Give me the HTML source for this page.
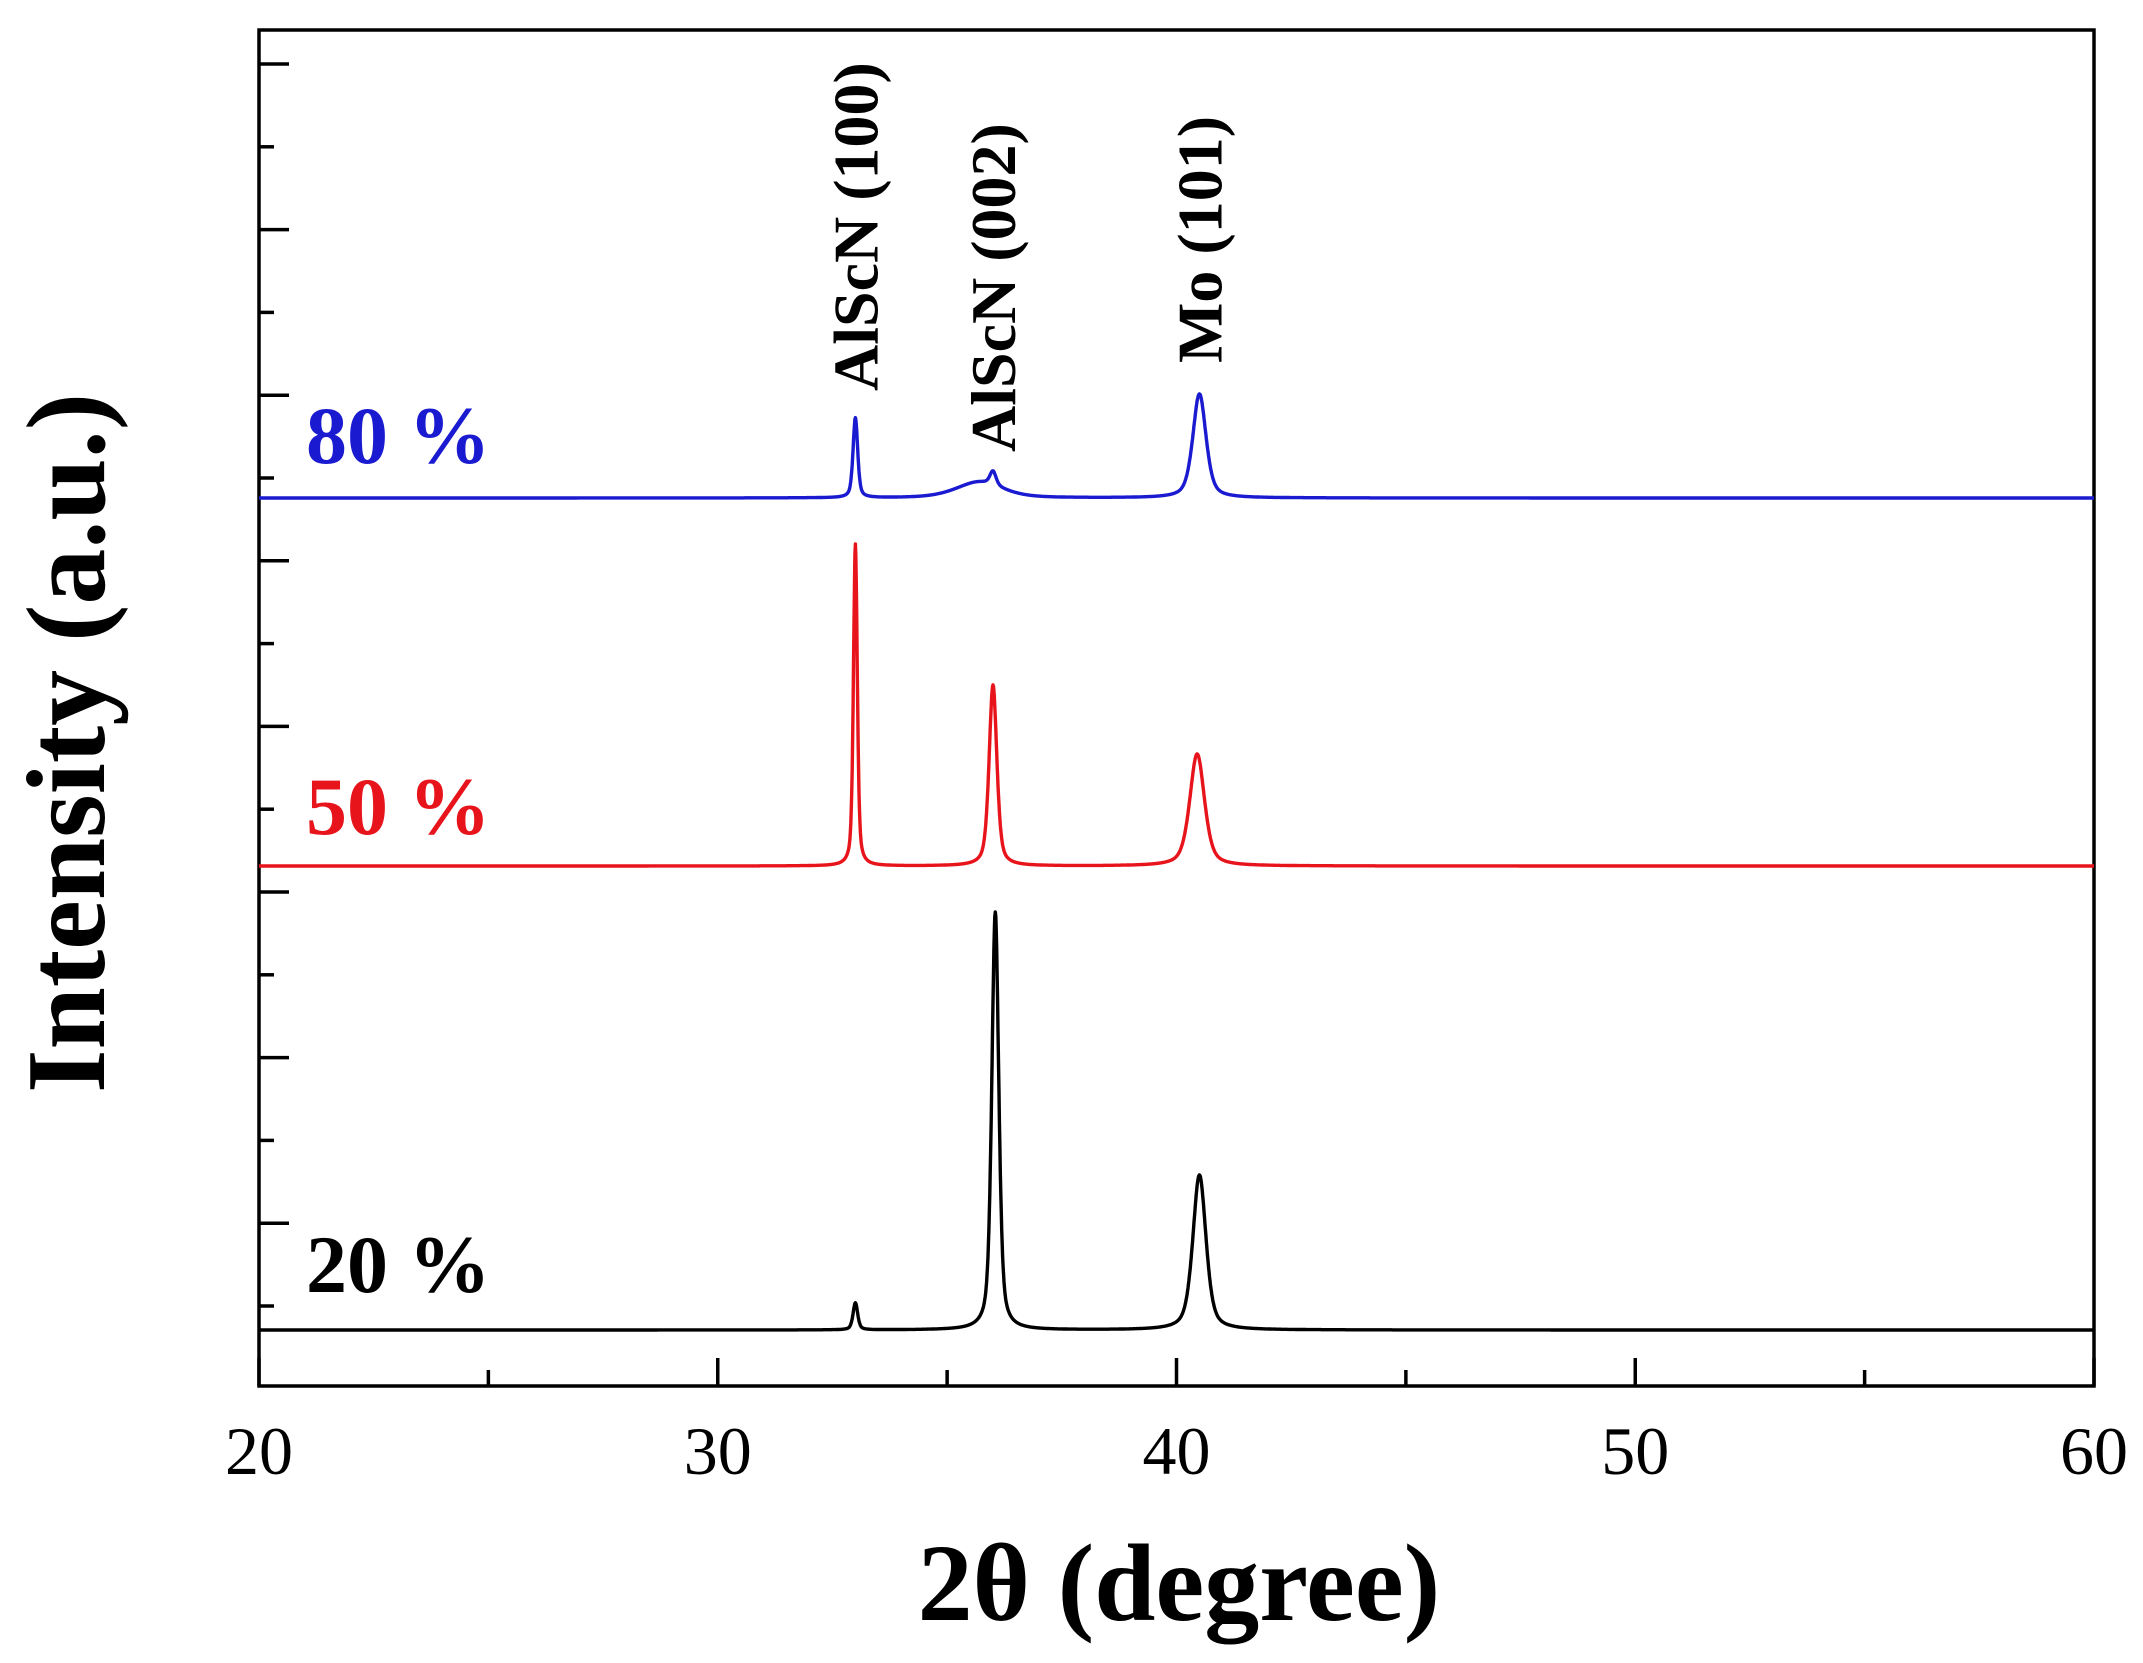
<!DOCTYPE html>
<html><head><meta charset="utf-8"><style>
html,body{margin:0;padding:0;background:#fff;}
svg{display:block;}
text{font-family:"Liberation Serif",serif;}
</style></head><body>
<svg id="chart" width="2143" height="1663" viewBox="0 0 2143 1663">
<g id="axes"></g>
<g id="series"></g>
<g id="labels"></g>
</svg>
<script>
// ---- data ----
const xTicks = [20, 30, 40, 50, 60];
const xMinorTicks = [25, 35, 45, 55];
const seriesNames = ["20 %", "50 %", "80 %"];
const seriesColors = ["#000000", "#e8141c", "#1a1ad0"];
const seriesOffsets = [0, 464, 832];
const peaks20Pos = [33.0, 36.05, 40.5];
const peaks20Height = [27, 418, 155];
const peaks20Width = [0.06, 0.09, 0.17];
const peaks50Pos = [33.0, 36.0, 40.45];
const peaks50Height = [322, 181, 112];
const peaks50Width = [0.05, 0.1, 0.19];
const peaks80Pos = [33.0, 35.7, 36.0, 40.5];
const peaks80Height = [80, 16, 14, 104];
const peaks80Width = [0.06, 0.6, 0.08, 0.17];
const peakLabels = ["AlScN (100)", "AlScN (002)", "Mo (101)"];
const peakLabelPos = [33.0, 36.0, 40.5];

// ---- scales ----
const X0 = 259, X1 = 2094, Y0 = 30, Y1 = 1386, BASE = 1330;
function xs(v){ return X0 + (v - 20) / 40 * (X1 - X0); }
function ys(v){ return BASE - v; }

const NS = "http://www.w3.org/2000/svg";
function mk(tag, attrs, parent){
  const e = document.createElementNS(NS, tag);
  for (const k in attrs) e.setAttribute(k, attrs[k]);
  parent.appendChild(e);
  return e;
}
const axes = document.getElementById('axes');
const series = document.getElementById('series');
const labels = document.getElementById('labels');

const frame = mk('rect', {x:X0, y:Y0, width:X1-X0, height:Y1-Y0, fill:'none', stroke:'#000', 'stroke-width':3.5}, axes);



xTicks.forEach(function(t){
  const l = mk('line', {x1:xs(t), x2:xs(t), y1:Y1, y2:Y1-28, stroke:'#000', 'stroke-width':3.5}, axes);
  
  
  const tx = mk('text', {x:xs(t), y:1474, 'font-size':68, 'text-anchor':'middle', fill:'#000'}, axes);
  tx.textContent = t;
  
  
});
xMinorTicks.forEach(function(t){
  const l = mk('line', {x1:xs(t), x2:xs(t), y1:Y1, y2:Y1-16, stroke:'#000', 'stroke-width':3.5}, axes);
  
  
});
for (let i = 0; i < 8; i++){
  const yy = 64 + i * 165.6;
  const l = mk('line', {x1:X0, x2:X0+30, y1:yy, y2:yy, stroke:'#000', 'stroke-width':3.5}, axes);
  
  
  const ym = yy + 82.8;
  const m = mk('line', {x1:X0, x2:X0+15, y1:ym, y2:ym, stroke:'#000', 'stroke-width':3.5}, axes);
  
  
}

const xt = mk('text', {x:1179, y:1620, 'font-size':110, 'font-weight':'bold', 'text-anchor':'middle', fill:'#000'}, labels);
xt.textContent = '2θ (degree)';


const yt = mk('text', {x:0, y:0, 'font-size':112, 'font-weight':'bold', 'text-anchor':'middle', fill:'#000', transform:'translate(104,743) rotate(-90)'}, labels);
yt.textContent = 'Intensity (a.u.)';



const pos = [peaks20Pos, peaks50Pos, peaks80Pos];
const hts = [peaks20Height, peaks50Height, peaks80Height];
const wds = [peaks20Width, peaks50Width, peaks80Width];
const labelY = [1292, 834, 463];
for (let s = 0; s < 3; s++){
  let d = '';
  for (let i = 0; i <= 4000; i++){
    const v = 20 + i * 0.01;
    let yv = seriesOffsets[s];
    for (let p = 0; p < pos[s].length; p++){
      const dx = (v - pos[s][p]) / wds[s][p];
      yv += hts[s][p] * (0.5 / (1 + dx * dx) + 0.5 * Math.exp(-0.693 * dx * dx));
    }
    d += (i ? 'L' : 'M') + xs(v).toFixed(1) + ',' + ys(yv).toFixed(1);
  }
  const path = mk('path', {d:d, fill:'none', stroke:seriesColors[s], 'stroke-width':3.4, 'stroke-linejoin':'round'}, series);
  
  
  const t = mk('text', {x:306, y:labelY[s], 'font-size':82, 'font-weight':'bold', fill:seriesColors[s]}, labels);
  t.textContent = seriesNames[s];
  
  
}

const plBottom = [391, 452, 363];
for (let i = 0; i < peakLabels.length; i++){
  const x = xs(peakLabelPos[i]) + 22;
  const t = mk('text', {x:0, y:0, 'font-size':64, 'font-weight':'bold', fill:'#000', transform:'translate(' + x.toFixed(1) + ',' + plBottom[i] + ') rotate(-90)'}, labels);
  t.textContent = peakLabels[i];
  
  
}
</script>
</body></html>
